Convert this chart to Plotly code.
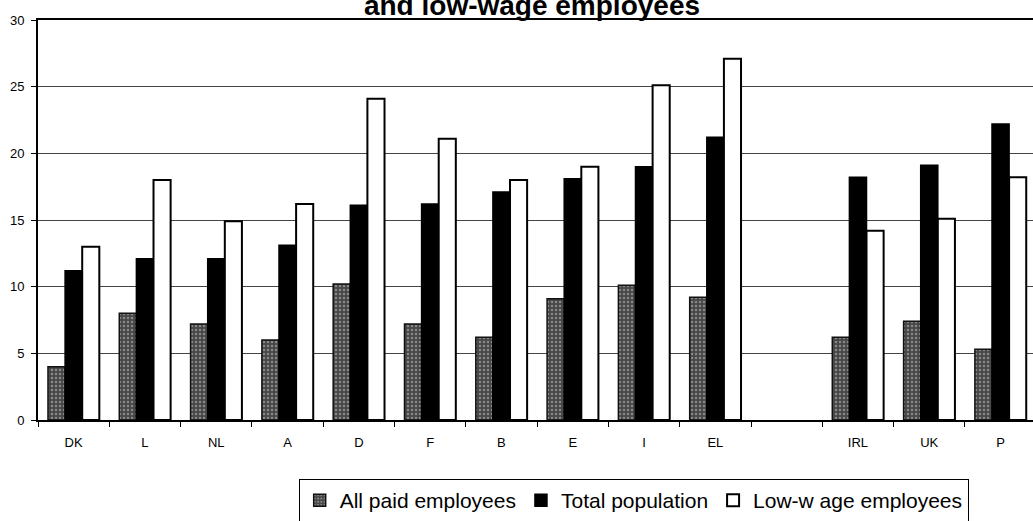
import plotly.graph_objects as go

countries = ["DK", "L", "NL", "A", "D", "F", "B", "E", "I", "EL", "IRL", "UK", "P"]
category_order = ["DK", "L", "NL", "A", "D", "F", "B", "E", "I", "EL", " ", "IRL", "UK", "P"]

all_paid = [4.0, 8.0, 7.2, 6.0, 10.2, 7.2, 6.2, 9.1, 10.1, 9.2, 6.2, 7.4, 5.3]
total_pop = [11.2, 12.1, 12.1, 13.1, 16.1, 16.2, 17.1, 18.1, 19.0, 21.2, 18.2, 19.1, 22.2]
low_wage = [13.0, 18.0, 14.9, 16.2, 24.1, 21.1, 18.0, 19.0, 25.1, 27.1, 14.2, 15.1, 18.2]

series_names = ["All paid employees", "Total population", "Low-w age employees"]

FONT = "Liberation Sans, Arial, sans-serif"

fig = go.Figure()
fig.add_trace(go.Bar(
    x=countries, y=all_paid, name=series_names[0],
    marker=dict(color="#474747", line=dict(color="#111", width=1.5),
                pattern=dict(shape=".", fgcolor="#c9c9c9", size=4, solidity=0.3)),
))
fig.add_trace(go.Bar(
    x=countries, y=total_pop, name=series_names[1],
    marker=dict(color="#000000", line=dict(color="#000", width=1.5)),
))
fig.add_trace(go.Bar(
    x=countries, y=low_wage, name=series_names[2],
    marker=dict(color="#ffffff", line=dict(color="#000", width=2)),
))

fig.update_layout(
    width=1033, height=521,
    margin=dict(l=38, r=0, t=20, b=101, autoexpand=False),
    paper_bgcolor="white", plot_bgcolor="white",
    barmode="group", bargap=0.28, bargroupgap=0,
    font=dict(family=FONT, color="#000", size=13),
    title=dict(text="<b>and low-wage employees</b>", font=dict(family=FONT, size=28, color="#000"),
               x=0.515, xanchor="center", xref="container",
               y=0.991, yanchor="middle", yref="container"),
    legend=dict(orientation="h", x=0.262, xanchor="left", y=-0.1475, yanchor="top",
                bordercolor="#000", borderwidth=1, bgcolor="white",
                font=dict(family=FONT, size=21, color="#000"),
                traceorder="normal"),
    showlegend=True,
)

fig.update_xaxes(
    type="category", categoryorder="array", categoryarray=category_order,
    range=[-0.5, 13.455], automargin=False,
    showgrid=False, showline=True, linecolor="#000", linewidth=1.5, mirror=True,
    ticks="outside", ticklen=5, tickcolor="#000", tickson="boundaries",
    tickfont=dict(family=FONT, size=13), ticklabelstandoff=10,
)
fig.update_yaxes(
    range=[0, 30], tickvals=[0, 5, 10, 15, 20, 25, 30], automargin=False,
    showgrid=True, gridcolor="#444", gridwidth=1,
    showline=True, linecolor="#000", linewidth=2,
    ticks="outside", ticklen=5, tickcolor="#000",
    tickfont=dict(family=FONT, size=13), ticklabelstandoff=4,
    zeroline=False,
)

fig.write_html(
    "out.html",
    config={"displayModeBar": False},
    post_script="document.body.style.margin='0';document.body.style.padding='0';document.body.style.overflow='hidden';",
)
